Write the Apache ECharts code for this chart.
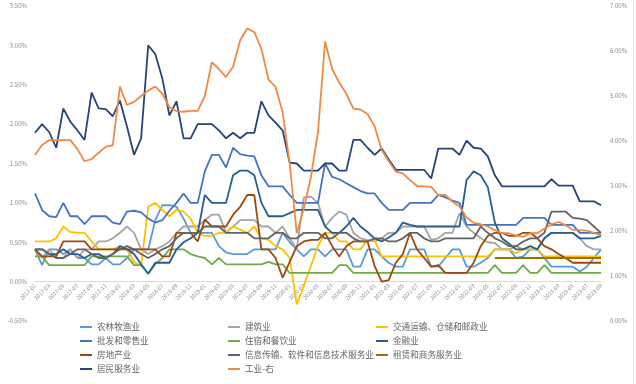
<!DOCTYPE html>
<html><head><meta charset="utf-8">
<script src="https://cdn.jsdelivr.net/npm/echarts@6/dist/echarts.min.js"></script>
<style>html,body{margin:0;padding:0;background:#fff}#c{width:636px;height:384px}</style>
</head><body><div id="c"></div>
<script>
const categories = [
'2017-01','2017-02','2017-03','2017-04','2017-05','2017-06','2017-07','2017-08','2017-09','2017-10','2017-11','2017-12',
'2018-01','2018-02','2018-03','2018-04','2018-05','2018-06','2018-07','2018-08','2018-09','2018-10','2018-11','2018-12',
'2019-01','2019-02','2019-03','2019-04','2019-05','2019-06','2019-07','2019-08','2019-09','2019-10','2019-11','2019-12',
'2020-01','2020-02','2020-03','2020-04','2020-05','2020-06','2020-07','2020-08','2020-09','2020-10','2020-11','2020-12',
'2021-01','2021-02','2021-03','2021-04','2021-05','2021-06','2021-07','2021-08','2021-09','2021-10','2021-11','2021-12',
'2022-01','2022-02','2022-03','2022-04','2022-05','2022-06','2022-07','2022-08','2022-09','2022-10','2022-11','2022-12',
'2023-01','2023-02','2023-03','2023-04','2023-05','2023-06','2023-07','2023-08','2023-09'];

const leftTicks = [-0.5, 0, 0.5, 1, 1.5, 2, 2.5, 3, 3.5];
const rightTicks = [0, 1, 2, 3, 4, 5, 6, 7];

const nonglin = [0.41,0.21,0.41,0.41,0.35,0.41,0.30,0.30,0.22,0.22,
0.30,0.22,0.22,0.30,0.41,0.41,0.41,0.78,0.97,0.97,
0.95,0.80,0.62,0.62,0.62,0.62,0.45,0.37,0.35,0.35,
0.35,0.41,0.41,0.41,0.41,0.62,0.50,0.41,0.32,0.41,
0.41,0.32,0.41,0.41,0.41,0.19,0.19,0.41,0.41,0.32,
0.24,0.19,0.19,0.41,0.41,0.41,0.19,0.19,0.30,0.41,
0.41,0.19,0.19,0.24,0.30,0.41,0.41,0.41,0.30,0.32,
0.41,0.41,0.30,0.19,0.19,0.19,0.19,0.13,0.19,0.30,
0.41];
const jianzhu = [0.41,0.30,0.41,0.30,0.30,0.41,0.30,0.41,0.41,0.51,
0.51,0.55,0.62,0.70,0.62,0.41,0.35,0.41,0.45,0.51,
0.62,0.70,0.70,0.70,0.78,0.85,0.85,0.62,0.70,0.78,
0.78,0.78,0.70,0.70,0.62,0.70,0.55,0.41,1.07,1.08,
1.00,0.70,0.81,0.89,0.85,0.62,0.55,0.53,0.51,0.55,
0.62,0.62,0.70,0.70,0.70,0.70,0.53,0.55,0.62,0.62,
0.87,0.70,0.62,0.55,0.50,0.49,0.41,0.41,0.45,0.41,
0.41,0.41,0.55,0.62,0.62,0.62,0.62,0.55,0.45,0.41,
0.41];
const jiaotong = [0.51,0.51,0.51,0.55,0.70,0.63,0.62,0.62,0.51,0.41,
0.41,0.41,0.45,0.41,0.25,0.20,0.95,1.00,0.91,0.83,
0.91,0.89,0.80,0.62,0.58,0.58,0.62,0.62,0.70,0.66,
0.62,0.70,0.55,0.53,0.45,0.41,0.30,-0.29,-0.05,0.20,
0.45,0.62,0.62,0.51,0.51,0.41,0.41,0.53,0.53,0.32,
0.32,0.32,0.32,0.32,0.32,0.32,0.32,0.32,0.32,0.32,
0.32,0.32,0.32,0.32,0.32,0.41,0.41,0.41,0.36,0.41,
0.41,0.41,0.32,0.32,0.32,0.32,0.32,0.32,0.32,0.32,
0.32];
const pifa = [1.12,0.91,0.83,0.82,1.00,0.83,0.83,0.73,0.83,0.83,
0.83,0.75,0.73,0.89,0.90,0.88,0.80,0.75,0.78,0.90,
1.00,1.12,1.00,1.00,1.40,1.61,1.61,1.45,1.70,1.62,
1.60,1.59,1.35,1.21,1.21,1.21,1.10,1.00,1.00,1.00,
1.00,1.50,1.33,1.30,1.25,1.20,1.15,1.12,1.12,1.00,
0.91,0.91,0.91,1.00,1.00,1.00,1.00,1.10,1.07,1.03,
1.00,0.72,0.72,0.72,0.72,0.72,0.72,0.72,0.72,0.81,
0.81,0.81,0.81,0.72,0.72,0.72,0.72,0.62,0.62,0.62,
0.62];
const zhusu = [0.32,0.32,0.21,0.21,0.21,0.21,0.21,0.21,0.32,0.32,
0.32,0.32,0.32,0.32,0.21,0.21,0.10,0.22,0.30,0.41,
0.41,0.41,0.35,0.32,0.30,0.22,0.30,0.22,0.22,0.22,
0.22,0.22,0.22,0.25,0.22,0.22,0.11,0.11,0.11,0.11,
0.11,0.11,0.11,0.21,0.21,0.11,0.11,0.11,0.11,0.11,
0.11,0.11,0.11,0.11,0.11,0.11,0.11,0.11,0.11,0.11,
0.11,0.11,0.11,0.11,0.11,0.21,0.11,0.11,0.11,0.21,
0.11,0.11,0.21,0.11,0.11,0.11,0.11,0.11,0.11,0.11,
0.11];
const jinrong = [0.41,0.41,0.35,0.35,0.41,0.35,0.35,0.30,0.35,0.35,
0.30,0.35,0.45,0.41,0.35,0.22,0.10,0.24,0.24,0.24,
0.41,0.50,0.55,0.62,1.10,1.00,1.00,1.00,1.35,1.41,
1.41,1.35,1.00,0.83,0.83,0.83,0.87,0.91,0.91,0.91,
0.91,0.70,0.62,0.62,0.70,0.81,0.70,0.63,0.55,0.51,
0.56,0.62,0.75,0.72,0.70,0.70,0.70,0.70,0.70,0.70,
0.70,1.29,1.40,1.35,1.20,0.75,0.55,0.48,0.41,0.41,
0.45,0.41,0.55,0.62,0.62,0.62,0.62,0.55,0.55,0.55,
0.58];
const fangdichan = [0.41,0.32,0.32,0.32,0.51,0.51,0.51,0.51,0.41,0.41,
0.41,0.41,0.41,0.41,0.41,0.41,0.41,0.41,0.32,0.32,
0.62,0.62,0.62,0.51,0.79,0.70,0.70,0.70,0.85,0.95,
1.10,1.10,0.41,0.41,0.30,0.05,0.25,0.45,0.51,0.53,
0.53,0.62,0.45,0.32,0.45,0.51,0.51,0.51,0.20,0.00,
0.02,0.24,0.35,0.62,0.41,0.30,0.19,0.21,0.11,0.11,
0.11,0.11,0.24,0.45,0.58,0.62,0.62,0.58,0.58,0.62,
0.62,0.55,0.45,0.41,0.35,0.30,0.24,0.24,0.24,0.24,
0.24];
const xinxi = [0.41,0.41,0.35,0.30,0.30,0.35,0.41,0.41,0.35,0.30,
0.30,0.35,0.41,0.45,0.41,0.35,0.30,0.35,0.41,0.45,
0.55,0.62,0.62,0.62,0.70,0.70,0.70,0.62,0.62,0.62,
0.62,0.55,0.55,0.55,0.62,0.62,0.55,0.55,0.62,0.62,
0.62,0.55,0.55,0.62,0.62,0.55,0.51,0.51,0.55,0.55,
0.51,0.51,0.55,0.62,0.62,0.55,0.51,0.51,0.55,0.55,
0.55,0.55,0.55,0.70,0.62,0.55,0.51,0.45,0.45,0.51,
0.55,0.55,0.62,0.89,0.89,0.89,0.81,0.80,0.78,0.70,
0.62];
const zulin = [null,null,null,null,null,null,null,null,null,null,
null,null,null,null,null,null,null,null,null,null,
null,null,null,null,null,null,null,null,null,null,
null,null,null,null,null,null,null,null,null,null,
null,null,null,null,null,null,null,null,null,null,
null,null,null,null,null,null,null,null,null,null,
null,null,null,null,null,0.30,0.30,0.30,0.30,0.30,
0.30,0.30,0.30,0.30,0.30,0.30,0.30,0.30,0.30,0.30,
0.30];
const jumin = [1.89,2.00,1.90,1.70,2.20,2.03,1.92,1.80,2.40,2.20,
2.19,2.10,2.30,1.97,1.61,1.82,3.00,2.89,2.58,2.11,
2.29,1.82,1.82,2.00,2.00,2.00,1.92,1.82,1.89,1.82,
1.89,1.89,2.29,2.11,2.02,1.92,1.51,1.50,1.41,1.41,
1.41,1.50,1.50,1.41,1.41,1.80,1.80,1.70,1.61,1.69,
1.55,1.42,1.42,1.42,1.42,1.42,1.31,1.69,1.69,1.69,
1.61,1.79,1.70,1.69,1.59,1.35,1.21,1.21,1.21,1.21,
1.21,1.21,1.21,1.30,1.22,1.22,1.22,1.02,1.02,1.02,
0.97];
const gongye = [3.69,3.91,4.02,4.02,4.02,4.02,3.82,3.55,3.60,3.74,
3.87,3.91,5.21,4.80,4.87,5.00,5.12,5.21,5.05,4.75,
4.66,4.65,4.67,4.67,5.00,5.75,5.60,5.42,5.65,6.24,
6.50,6.42,6.05,5.37,5.20,4.64,3.50,1.95,2.50,3.20,
4.20,6.21,5.60,5.30,5.05,4.72,4.70,4.60,4.33,3.80,
3.55,3.32,3.28,3.13,3.00,2.99,2.98,2.80,2.80,2.65,
2.55,2.30,2.18,2.15,2.10,2.02,1.95,1.95,1.90,1.87,
1.95,1.95,2.05,2.15,2.20,2.13,2.03,2.02,2.01,1.96,
1.91];

const seriesNames = ['农林牧渔业','建筑业','交通运输、仓储和邮政业','批发和零售业','住宿和餐饮业','金融业','房地产业','信息传输、软件和信息技术服务业','租赁和商务服务业','居民服务业','工业-右'];
const seriesData = [nonglin, jianzhu, jiaotong, pifa, zhusu, jinrong, fangdichan, xinxi, zulin, jumin, gongye];
const seriesColors = ['#5B9BD5','#A5A5A5','#FFC000','#4472C4','#70AD47','#255E91','#9E480E','#636363','#997300','#264478','#EE8A45'];
const seriesAxis = [0,0,0,0,0,0,0,0,0,0,1];

const legendCol = [80,228,376,80,228,376,80,228,376,80,228];
const legendRow = [0,0,0,1,1,1,2,2,2,3,3];
const rowTop = [322,336,350,364];

const font = '"Noto Sans CJK SC", "Noto Sans", sans-serif';
const chart = echarts.init(document.getElementById('c'), null, {renderer:'canvas'});

const legends = seriesNames.map((n,i)=>({
  data:[{name:n, icon:'rect'}],
  left: legendCol[i], top: rowTop[legendRow[i]],
  itemWidth: 12, itemHeight: 2,
  textStyle:{fontSize:8.6, color:'#666666', fontFamily:font, lineHeight:10},
  padding:0, selectedMode:false
}));

const pct = v => v.toFixed(2) + '%';
const gridTop = 6, gridBottom = 63, plotH = 384 - gridTop - gridBottom;
const zeroOffset = plotH * (0 - leftTicks[0]) / (leftTicks[leftTicks.length-1] - leftTicks[0]);

chart.setOption({
  animation:false,
  backgroundColor:'#fff',
  grid:{left:35, right:35, top:gridTop, bottom:gridBottom, containLabel:false},
  legend: legends,
  xAxis:{
    type:'category', data:categories, boundaryGap:false, position:'bottom',
    offset: -zeroOffset,
    axisLine:{onZero:false, lineStyle:{color:'#d9d9d9', width:1}},
    axisTick:{show:false},
    axisLabel:{interval:1, rotate:45, fontSize:5.5, color:'#8c8c8c', margin:3, fontFamily:font},
    splitLine:{show:false}
  },
  yAxis:[
    {type:'value', min:leftTicks[0], max:leftTicks[leftTicks.length-1], interval:0.5,
     axisLine:{show:false}, axisTick:{show:false}, splitLine:{show:false},
     axisLabel:{formatter:pct, fontSize:6, color:'#8c8c8c', margin:8, fontFamily:font}},
    {type:'value', min:rightTicks[0], max:rightTicks[rightTicks.length-1], interval:1,
     axisLine:{show:false}, axisTick:{show:false}, splitLine:{show:false},
     axisLabel:{formatter:pct, fontSize:6, color:'#8c8c8c', margin:9, fontFamily:font}}
  ],
  graphic:[{type:'line', shape:{x1:633.5,y1:0,x2:633.5,y2:384}, style:{stroke:'#e0e0e0', lineWidth:1}, silent:true}],
  series: seriesNames.map((n,i)=>({
    name:n, type:'line', data:seriesData[i], yAxisIndex:seriesAxis[i],
    showSymbol:false, symbol:'none', smooth:false, connectNulls:false,
    color:seriesColors[i],
    lineStyle:{width:1.8, color:seriesColors[i]},
    emphasis:{disabled:true}
  }))
});
</script>
</body></html>
